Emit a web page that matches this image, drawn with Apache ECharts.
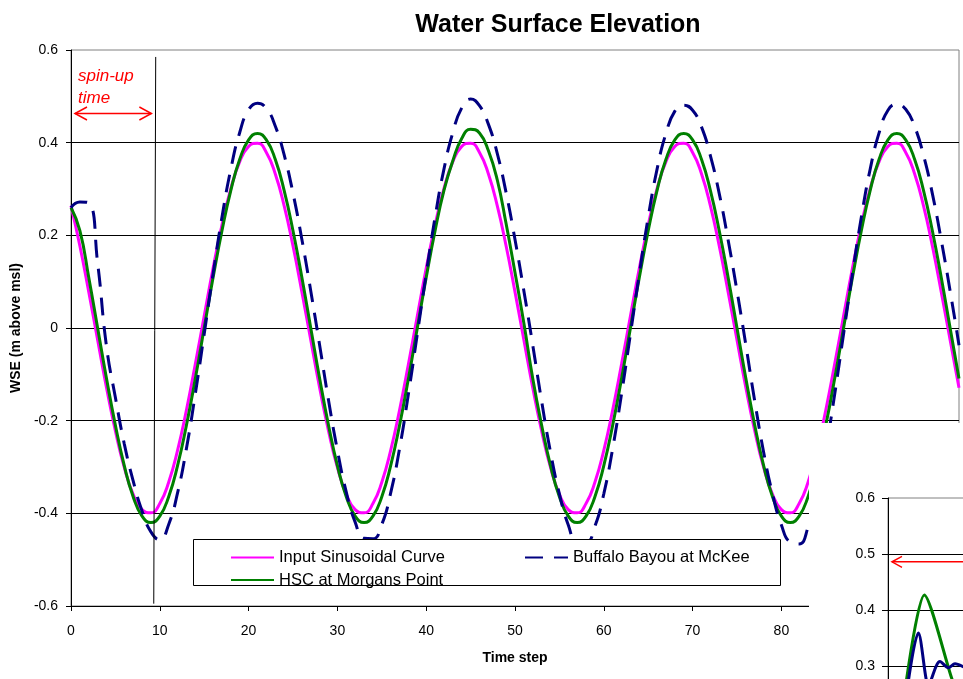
<!DOCTYPE html>
<html>
<head>
<meta charset="utf-8">
<script src="https://cdn.jsdelivr.net/npm/echarts@6/dist/echarts.min.js"></script>
<style>
html,body{margin:0;padding:0;background:#fff;}
#chart{width:963px;height:679px;}
</style>
</head>
<body>
<div id="chart"></div>
<script>
// ---- Data ----
// Main chart: time steps 0..100
const inputCurve = [
  0.264,0.177,0.078,-0.026,-0.129,-0.222,-0.301,-0.359,-0.392,-0.399,-0.379,-0.333,-0.264,-0.177,-0.078,0.026,0.129,0.222,0.301,0.359,0.392,0.399,0.379,0.333,
  0.264,0.177,0.078,-0.026,-0.129,-0.222,-0.301,-0.359,-0.392,-0.399,-0.379,-0.333,-0.264,-0.177,-0.078,0.026,0.129,0.222,0.301,0.359,0.392,0.399,0.379,0.333,
  0.264,0.177,0.078,-0.026,-0.129,-0.222,-0.301,-0.359,-0.392,-0.399,-0.379,-0.333,-0.264,-0.177,-0.078,0.026,0.129,0.222,0.301,0.359,0.392,0.399,0.379,0.333,
  0.264,0.177,0.078,-0.026,-0.129,-0.222,-0.301,-0.359,-0.392,-0.399,-0.379,-0.333,-0.264,-0.177,-0.078,0.026,0.129,0.222,0.301,0.359,0.392,0.399,0.379,0.333,
  0.264,0.177,0.078,-0.026,-0.129
];
const hscCurve = [
  0.26,0.21,0.109,0.0,-0.109,-0.21,-0.297,-0.364,-0.406,-0.42,-0.406,-0.364,-0.297,-0.21,-0.109,0.0,0.109,0.21,0.297,0.364,0.406,0.42,0.406,0.364,
  0.297,0.21,0.109,0.0,-0.109,-0.21,-0.297,-0.364,-0.406,-0.42,-0.406,-0.364,-0.297,-0.21,-0.109,0.0,0.109,0.21,0.297,0.361,0.409,0.429,0.421,0.383,
  0.32,0.225,0.12,0.01,-0.109,-0.21,-0.297,-0.364,-0.406,-0.42,-0.406,-0.364,-0.297,-0.21,-0.109,0.0,0.109,0.21,0.297,0.364,0.406,0.42,0.406,0.364,
  0.297,0.21,0.109,0.0,-0.109,-0.21,-0.297,-0.364,-0.406,-0.42,-0.406,-0.364,-0.297,-0.21,-0.109,0.0,0.109,0.21,0.297,0.364,0.406,0.42,0.406,0.364,
  0.297,0.21,0.109,0.0,-0.109
];
const buffaloCurve = [
  0.26,0.272,0.27,0.14,-0.04,-0.15,-0.25,-0.33,-0.395,-0.44,-0.457,-0.424,-0.356,-0.26,-0.142,-0.013,0.117,0.239,0.343,0.422,0.471,0.485,0.474,0.436,
  0.374,0.291,0.191,0.08,-0.037,-0.156,-0.264,-0.354,-0.419,-0.454,-0.455,-0.424,-0.356,-0.26,-0.142,-0.013,0.117,0.239,0.343,0.422,0.475,0.494,0.48,0.44,
  0.377,0.292,0.191,0.08,-0.037,-0.158,-0.268,-0.358,-0.425,-0.462,-0.463,-0.428,-0.358,-0.26,-0.142,-0.013,0.117,0.239,0.343,0.42,0.468,0.481,0.47,0.434,
  0.372,0.29,0.19,0.08,-0.037,-0.158,-0.268,-0.358,-0.425,-0.462,-0.466,-0.43,-0.36,-0.262,-0.143,-0.013,0.117,0.239,0.343,0.421,0.47,0.483,0.472,0.435,
  0.373,0.29,0.19,0.08,-0.037
];
// spin-up marker line (x, y) and arrow
const spinUpLineX = [9.54, 9.32];
const spinUpLineY = [0.585, -0.595];
const spinUpArrowX = [0.45, 9.05];
const spinUpArrowY = [0.463, 0.463];

// Inset chart (partially visible)
const insetGreenX = [1.5, 3.63, 6.37, 7.25];
const insetGreenY = [0.23, 0.427, 0.278, 0.235];
const insetNavyX = [1.7, 3.03, 3.8, 4.1, 4.37, 5.2, 6.03, 6.7, 7.6];
const insetNavyY = [0.23, 0.359, 0.278, 0.255, 0.278, 0.308, 0.297, 0.304, 0.298];
const insetArrowX = [0.4, 12];
const insetArrowY = [0.486, 0.486];

const seriesNames = ['Input Sinusoidal Curve', 'Buffalo Bayou at McKee', 'HSC at Morgans Point'];

// ---- Chart ----
const FN = '"Liberation Sans", Arial, sans-serif';
const pairs = (xs, ys) => xs.map((x, i) => [x, ys[i]]);
const curvePairs = arr => arr.map((v, i) => [i, v]);
const LEFT_HEAD = 'path://M12,0 L0,6 L12,12';
const RIGHT_HEAD = 'path://M0,0 L12,6 L0,12';

const chart = echarts.init(document.getElementById('chart'), null, {renderer: 'canvas'});

const legendBase = {
  orient: 'horizontal', itemWidth: 43, itemHeight: 3, padding: 0, z: 11,
  selectedMode: false,
  itemStyle: {opacity: 0},
  textStyle: {fontFamily: FN, fontSize: 16.5, color: '#000'}
};

const option = {
  animation: false,
  backgroundColor: '#fff',
  title: {
    text: 'Water Surface Elevation', left: 553, top: 8, textAlign: 'center',
    textStyle: {fontFamily: FN, fontWeight: 'bold', fontSize: 25, color: '#000'}
  },
  legend: [
    Object.assign({}, legendBase, {data: [seriesNames[0]], left: 230, top: 549}),
    Object.assign({}, legendBase, {data: [seriesNames[1]], left: 524, top: 549}),
    Object.assign({}, legendBase, {data: [seriesNames[2]], left: 230, top: 571.5})
  ],
  grid: [
    {left: 71, top: 50, right: 4, bottom: 73, show: true, borderColor: '#808080', borderWidth: 1,
     containLabel: false, outerBoundsMode: 'none'},
    {left: 888, top: 498, width: 300, height: 336, show: true, borderColor: '#808080', borderWidth: 1, z: 20,
     containLabel: false, outerBoundsMode: 'none'}
  ],
  xAxis: [
    {
      type: 'value', gridIndex: 0, min: 0, max: 100, interval: 10,
      name: 'Time step', nameLocation: 'middle', nameGap: 45,
      nameTextStyle: {fontFamily: FN, fontWeight: 'bold', fontSize: 14, color: '#000'},
      axisLine: {show: true, onZero: false, lineStyle: {color: '#000', width: 1}},
      axisTick: {show: true, length: 5, lineStyle: {color: '#000'}},
      axisLabel: {fontFamily: FN, fontSize: 14, color: '#000', margin: 18},
      splitLine: {show: false}
    },
    {
      type: 'value', gridIndex: 1, min: 0, max: 30, show: false, z: 20,
      axisLine: {onZero: false}
    }
  ],
  yAxis: [
    {
      type: 'value', gridIndex: 0, min: -0.6, max: 0.6, interval: 0.2,
      name: 'WSE (m above msl)', nameLocation: 'middle', nameGap: 43, nameRotate: 90,
      nameTextStyle: {fontFamily: FN, fontWeight: 'bold', fontSize: 14, color: '#000'},
      axisLine: {show: true, onZero: false, lineStyle: {color: '#000', width: 1}},
      axisTick: {show: true, length: 5, lineStyle: {color: '#000'}},
      axisLabel: {fontFamily: FN, fontSize: 14, color: '#000', margin: 13},
      splitLine: {show: true, showMinLine: false, showMaxLine: false, lineStyle: {color: '#000', width: 1}}
    },
    {
      type: 'value', gridIndex: 1, min: 0, max: 0.6, interval: 0.1, z: 20,
      axisLine: {show: true, onZero: false, lineStyle: {color: '#000', width: 1}},
      axisTick: {show: true, length: 6, lineStyle: {color: '#000'}},
      axisLabel: {fontFamily: FN, fontSize: 14, color: '#000', margin: 13},
      splitLine: {show: true, showMinLine: false, showMaxLine: false, lineStyle: {color: '#000', width: 1}}
    }
  ],
  graphic: [
    {type: 'rect', z: 10, silent: true, shape: {x: 809, y: 423, width: 160, height: 260}, style: {fill: '#fff'}},
    {type: 'rect', z: 10, silent: true, shape: {x: 193.5, y: 539.5, width: 587, height: 46}, style: {fill: '#fff', stroke: '#000', lineWidth: 1}},
    {type: 'text', z: 12, silent: true, x: 78, y: 76, style: {text: 'spin-up', fill: '#FF0000', font: 'italic 17px ' + FN, verticalAlign: 'middle'}},
    {type: 'text', z: 12, silent: true, x: 78, y: 98, style: {text: 'time', fill: '#FF0000', font: 'italic 17px ' + FN, verticalAlign: 'middle'}}
  ],
  series: [
    {
      name: seriesNames[0], type: 'line', xAxisIndex: 0, yAxisIndex: 0,
      data: curvePairs(inputCurve), smooth: true, symbol: 'none', z: 2,
      color: '#FF00FF', lineStyle: {color: '#FF00FF', width: 3}
    },
    {
      name: seriesNames[2], type: 'line', xAxisIndex: 0, yAxisIndex: 0,
      data: curvePairs(hscCurve), smooth: true, symbol: 'none', z: 3,
      color: '#008000', lineStyle: {color: '#008000', width: 3}
    },
    {
      name: seriesNames[1], type: 'line', xAxisIndex: 0, yAxisIndex: 0,
      data: curvePairs(buffaloCurve), smooth: true, symbol: 'none', z: 4,
      color: '#000080', lineStyle: {color: '#000080', width: 3, type: [18, 11]}
    },
    {
      name: 'spinup-line', type: 'line', xAxisIndex: 0, yAxisIndex: 0, silent: true,
      data: pairs(spinUpLineX, spinUpLineY), symbol: 'none', z: 5,
      lineStyle: {color: '#000', width: 1}
    },
    {
      name: 'spinup-arrow', type: 'line', xAxisIndex: 0, yAxisIndex: 0, silent: true, z: 5,
      data: [
        {value: [spinUpArrowX[0], spinUpArrowY[0]], symbol: LEFT_HEAD, symbolSize: [12, 13], symbolOffset: [6, 0]},
        {value: [spinUpArrowX[1], spinUpArrowY[1]], symbol: RIGHT_HEAD, symbolSize: [12, 13], symbolOffset: [-6, 0]}
      ],
      showSymbol: true, lineStyle: {color: '#FF0000', width: 1.5},
      itemStyle: {color: 'none', borderColor: '#FF0000', borderWidth: 1.5}
    },
    {
      name: 'inset-green', type: 'line', xAxisIndex: 1, yAxisIndex: 1, silent: true, z: 21,
      data: pairs(insetGreenX, insetGreenY), smooth: 0.25, symbol: 'none',
      lineStyle: {color: '#008000', width: 3}
    },
    {
      name: 'inset-navy', type: 'line', xAxisIndex: 1, yAxisIndex: 1, silent: true, z: 21,
      data: pairs(insetNavyX, insetNavyY), smooth: 0.3, symbol: 'none',
      lineStyle: {color: '#000080', width: 3}
    },
    {
      name: 'inset-arrow', type: 'line', xAxisIndex: 1, yAxisIndex: 1, silent: true, z: 21,
      data: [
        {value: [insetArrowX[0], insetArrowY[0]], symbol: LEFT_HEAD, symbolSize: [10, 11], symbolOffset: [5, 0]},
        {value: [insetArrowX[1], insetArrowY[1]], symbol: 'none'}
      ],
      showSymbol: true, lineStyle: {color: '#FF0000', width: 1.5},
      itemStyle: {color: 'none', borderColor: '#FF0000', borderWidth: 1.5}
    }
  ]
};
chart.setOption(option);
</script>
</body>
</html>
